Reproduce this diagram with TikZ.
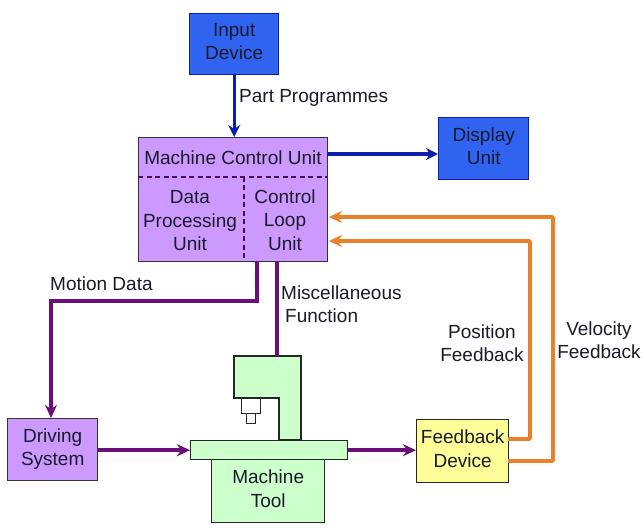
\documentclass[tikz,border=0pt]{standalone}
\usepackage{fontspec}
\setmainfont{Liberation Sans}
\usetikzlibrary{arrows.meta,calc}
\definecolor{bluefill}{HTML}{2F63F0}
\definecolor{blueline}{HTML}{0B1FA8}
\definecolor{purplefill}{HTML}{CC99FF}
\definecolor{purpleline}{HTML}{6A0F78}
\definecolor{greenfill}{HTML}{CCFFCC}
\definecolor{yellowfill}{HTML}{FFFF99}
\definecolor{orangeline}{HTML}{E8812A}
\definecolor{textgray}{HTML}{1A1A2A}
\tikzset{
  x=1pt,y=-1pt,
  lbl/.style={font=\fontsize{19}{23.5}\selectfont,align=center,text=textgray,inner sep=0pt},
  box/.style={draw=#1,line width=1.4pt,inner sep=0pt,anchor=north west,lbl,text depth=5pt},
  sized/.style n args={2}{minimum width=#1 pt,minimum height=#2 pt},
  bluearrow/.style={draw=blueline,line width=3.4pt,-{Stealth[length=12pt,width=12pt]}},
  purplearrow/.style={draw=purpleline,line width=3.6pt,-{Stealth[length=13pt,width=12pt]}},
  purpleplain/.style={draw=purpleline,line width=3.6pt},
  orangearrow/.style={draw=orangeline,line width=3.6pt,-{Stealth[length=13pt,width=12pt]},rounded corners=1pt},
  divider/.style={draw=purpleline!70!black,line width=1.2pt,dash pattern=on 5pt off 3.5pt},
  mach/.style={draw=black!85,line width=1.3pt,fill=greenfill},
}
\begin{document}
\begin{tikzpicture}
\useasboundingbox (0,0) rectangle (641,532);
\fill[white] (0,0) rectangle (641,532);

% boxes
\node[box=blueline,fill=bluefill,sized={89}{61}] (input) at (189,13) {Input\\Device};
\node[box=blueline,fill=bluefill,sized={90}{62}] (display) at (438,117) {Display\\Unit};
\node[box=black!80,fill=purplefill,sized={189}{124}] (mcu) at (138,137) {};
\node[box=black!80,fill=purplefill,sized={90}{62}] (driving) at (7,418) {Driving\\System};
\node[box=black!85,fill=yellowfill,sized={92}{63}] (feedback) at (416,419) {Feedback\\Device};

% machine tool
\node[box=black!85,fill=greenfill,sized={113}{63}] (base) at (211,459) {Machine\\Tool};
\draw[mach] (234,356) coordinate (coltl) -- (301,356) -- (301,440) -- (279,440) -- (279,398) -- (234,398) -- cycle;
\node[box=black!85,fill=greenfill,sized={157}{19}] (table) at (190,440) {};
\node[box=black!85,fill=white,sized={19}{15}] (spindle) at (241,398) {};
\node[box=black!85,fill=white,sized={9}{10}] (bit) at (246,413) {};
\coordinate (colin) at (277,356);

% MCU inner
\coordinate (dl) at (138,177);
\coordinate (dr) at (327,177);
\coordinate (vt) at (244,177);
\coordinate (vb) at (244,261);
\draw[divider] (dl) -- (dr);
\draw[divider] (vt) -- (vb);
\node[lbl] (mcutitle) at (233,158) {Machine Control Unit};
\node[lbl] (dpu) at (190,221) {Data\\Processing\\Unit};
\node[lbl] (clu) at (285,220) {Control\\Loop\\Unit};

% connectors
\draw[bluearrow] (input.south) -- (input.south |- mcu.north);
\coordinate (mcuout) at (327,154);
\coordinate (dispin) at (438,154);
\draw[bluearrow] (mcuout) -- (dispin);

\coordinate (m1) at (257,261);
\coordinate (m2) at (257,301);
\coordinate (m3) at (51,301);
\coordinate (m4) at (51,418);
\draw[purplearrow] (m1) -- (m2) -- (m3) -- (m4);
\coordinate (m5) at (277,261);
\draw[purpleplain] (m5) -- (colin);
\draw[purplearrow] (driving.east |- table.west) -- (table.west);
\draw[purplearrow] (table.east) -- (feedback.west |- table.east);

\coordinate (fa) at (508,439);
\coordinate (fb) at (508,461);
\coordinate (ia) at (530,439);
\coordinate (ib) at (530,241);
\coordinate (ic) at (329,241);
\coordinate (oa) at (553,461);
\coordinate (ob) at (553,217);
\coordinate (oc) at (329,217);
\draw[orangearrow] (fa) -- (ia) -- (ib) -- (ic);
\draw[orangearrow] (fb) -- (oa) -- (ob) -- (oc);

% labels
\node[lbl,anchor=west] (pp) at (239,98) {Part Programmes};
\node[lbl,anchor=west] (md) at (50,284) {Motion Data};
\node[lbl,anchor=west,align=left] (mf) at (281,304) {Miscellaneous\\\hspace*{4pt}Function};
\node[lbl] (pf) at (482,343) {Position\\Feedback};
\node[lbl] (vf) at (599,340) {Velocity\\Feedback};
\end{tikzpicture}
\end{document}
